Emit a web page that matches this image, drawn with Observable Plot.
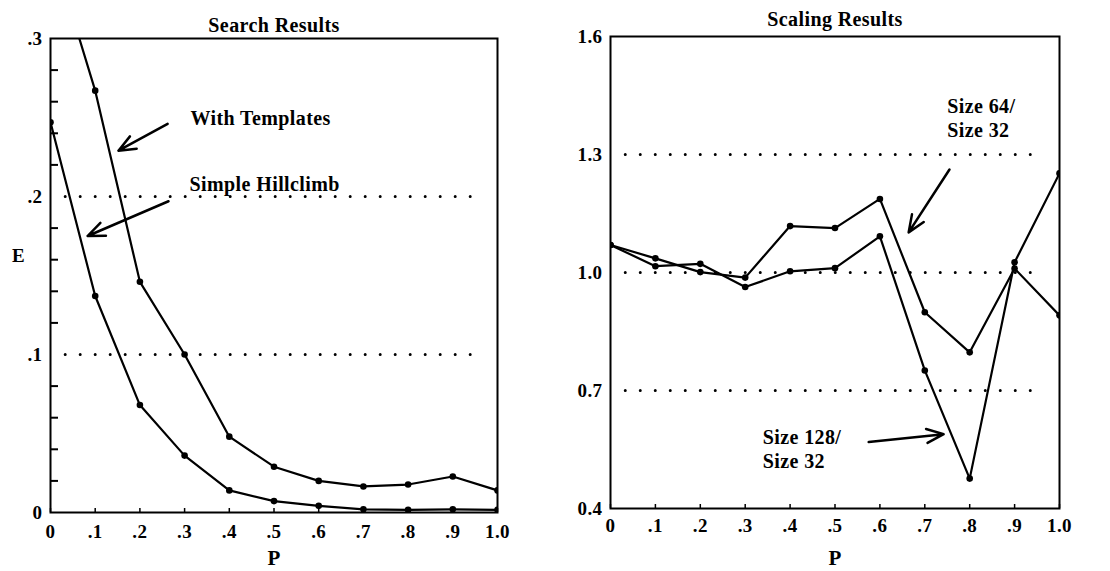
<!DOCTYPE html>
<html><head><meta charset="utf-8">
<script src="https://cdn.jsdelivr.net/npm/d3@7"></script>
<script src="https://cdn.jsdelivr.net/npm/@observablehq/plot@0.6"></script>
<style>
html,body{margin:0;padding:0;background:#fff;width:1110px;height:571px;overflow:hidden}
#wrap{display:flex;width:1110px;height:571px}
</style></head><body><div id="wrap"></div>
<script>
// ---- data ----
const P = [0, 0.1, 0.2, 0.3, 0.4, 0.5, 0.6, 0.7, 0.8, 0.9, 1.0];
const pTickLabels = ["0", ".1", ".2", ".3", ".4", ".5", ".6", ".7", ".8", ".9", "1.0"];

const withTemplatesE = [0.36, 0.267, 0.146, 0.100, 0.048, 0.029, 0.020, 0.0165, 0.0177, 0.0228, 0.014];
const hillclimbE = [0.247, 0.137, 0.068, 0.036, 0.014, 0.0072, 0.0042, 0.002, 0.0017, 0.002, 0.0017];
const searchYTicks = [0, 0.1, 0.2, 0.3];
const searchYTickLabels = ["0", ".1", ".2", ".3"];
const searchMinorTicks = [0.02, 0.04, 0.06, 0.08, 0.12, 0.14, 0.16, 0.18, 0.22, 0.24, 0.26, 0.28];
const searchDotted = [0.1, 0.2];
const searchNotes = [
  {text: "With Templates", x: 0.313, y: 0.256, ax: 0.262, ay: 0.246, bx: 0.152, by: 0.229},
  {text: "Simple Hillclimb", x: 0.311, y: 0.214, ax: 0.264, ay: 0.197, bx: 0.083, by: 0.175}
];

const size64Ratio = [1.070, 1.036, 1.001, 0.987, 1.118, 1.113, 1.187, 0.899, 0.797, 1.010, 0.891];
const size128Ratio = [1.070, 1.016, 1.022, 0.963, 1.003, 1.011, 1.092, 0.751, 0.476, 1.026, 1.252];
const scalingYTicks = [0.4, 0.7, 1.0, 1.3, 1.6];
const scalingYTickLabels = ["0.4", "0.7", "1.0", "1.3", "1.6"];
const scalingDotted = [0.7, 1.0, 1.3];
const scalingNotes = [
  {text: "Size 64/\nSize 32", x: 0.75, y: 1.45, ax: 0.755, ay: 1.262, bx: 0.664, by: 1.102},
  {text: "Size 128/\nSize 32", x: 0.339, y: 0.608, ax: 0.575, ay: 0.569, bx: 0.742, by: 0.589}
];

// ---- helpers ----
const font = "'Liberation Serif', 'Times New Roman', serif";
function longTable(series) {
  return series.flatMap(([name, vals]) => vals.map((v, i) => ({p: P[i], v, name})));
}
const pFormat = d => pTickLabels[P.indexOf(d)];

function panel({title, titleDy, data, yDomain, yTicks, yLabels, dotted, notes, minor, mL, mR, mT, mB, pDy, xPad, withE}) {
  const frameH = 571 - mT - mB, frameW = 555 - mL - mR;
  const marks = [
    Plot.ruleY(dotted, {x1: 0.034, x2: 0.965, strokeDasharray: "0 15", strokeLinecap: "round", strokeWidth: 3}),
    Plot.line(data, {x: "p", y: "v", z: "name", stroke: "black", strokeWidth: 2.2, clip: true}),
    Plot.dot(data, {x: "p", y: "v", r: 3.3, fill: "black", clip: true}),
    Plot.tickX(P, {x: d => d, insetTop: frameH - 4, strokeWidth: 1.5}),
    Plot.axisX({ticks: P, tickFormat: pFormat, tickSize: 0, tickPadding: xPad, label: null, fontSize: 19}),
    Plot.axisY({ticks: yTicks, tickFormat: d => yLabels[yTicks.indexOf(d)], tickSize: 0, tickPadding: 8, label: null, fontSize: 19}),
    Plot.frame({strokeWidth: 2}),
    Plot.text([title], {frameAnchor: "top", lineAnchor: "middle", dy: titleDy, fontSize: 20, fontWeight: "bold"}),
    Plot.text(["P"], {frameAnchor: "bottom", lineAnchor: "middle", dy: pDy, fontSize: 21, fontWeight: "bold"}),
    Plot.arrow(notes, {x1: "ax", y1: "ay", x2: "bx", y2: "by", strokeWidth: 2.5, headLength: 11, headAngle: 45}),
    Plot.text(notes, {x: "x", y: "y", text: "text", textAnchor: "start", lineAnchor: "top", lineHeight: 1.2, fontSize: 20, fontWeight: "bold"})
  ];
  if (minor) marks.push(Plot.tickY(minor, {y: d => d, insetRight: frameW - 8, strokeWidth: 2}));
  if (withE) marks.push(Plot.text(["E"], {frameAnchor: "left", textAnchor: "middle", lineAnchor: "middle", dx: -32, dy: -20, fontSize: 19, fontWeight: "bold"}));
  return Plot.plot({
    width: 555, height: 571,
    marginLeft: mL, marginRight: mR, marginTop: mT, marginBottom: mB,
    x: {domain: [0, 1]},
    y: {domain: yDomain},
    style: {fontFamily: font, fontSize: "19px", fontWeight: "bold", background: "white", color: "black", letterSpacing: "0.4px", overflow: "visible"},
    marks
  });
}

const searchData = longTable([["With Templates", withTemplatesE], ["Simple Hillclimb", hillclimbE]]);
const scalingData = longTable([["Size 64/Size 32", size64Ratio], ["Size 128/Size 32", size128Ratio]]);

const left = panel({
  title: "Search Results", titleDy: -13, data: searchData, yDomain: [0, 0.3],
  yTicks: searchYTicks, yLabels: searchYTickLabels, dotted: searchDotted,
  notes: searchNotes, minor: searchMinorTicks,
  mL: 50, mR: 58, mT: 38, mB: 59, pDy: 46, xPad: 12, withE: true
});
const right = panel({
  title: "Scaling Results", titleDy: -17, data: scalingData, yDomain: [0.4, 1.6],
  yTicks: scalingYTicks, yLabels: scalingYTickLabels, dotted: scalingDotted,
  notes: scalingNotes, minor: null,
  mL: 55, mR: 51, mT: 36, mB: 63, pDy: 50, xPad: 10, withE: false
});
document.getElementById("wrap").append(left, right);
</script></body></html>
